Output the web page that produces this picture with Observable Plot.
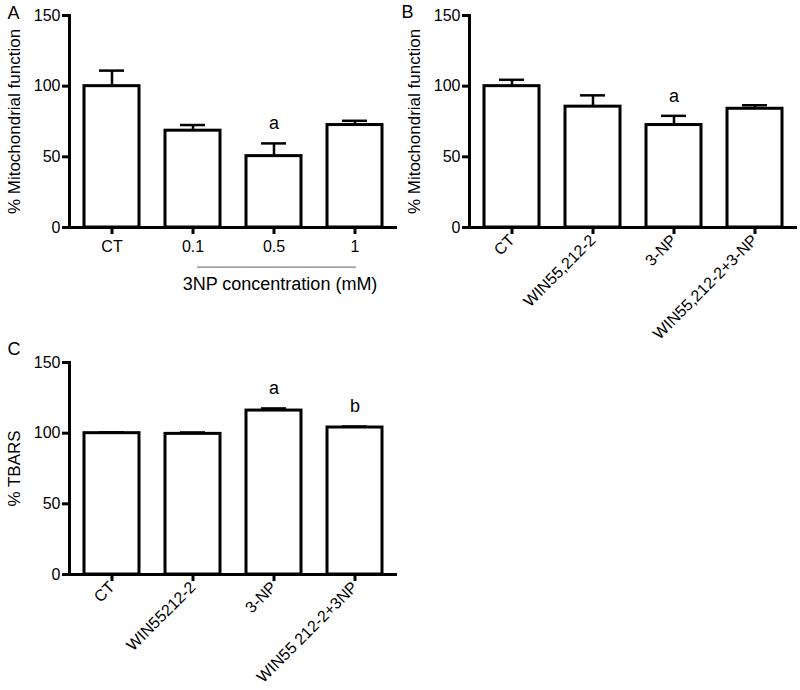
<!DOCTYPE html>
<html>
<head>
<meta charset="utf-8">
<script src="https://cdn.jsdelivr.net/npm/d3@7"></script>
<script src="https://cdn.jsdelivr.net/npm/@observablehq/plot@0.6"></script>
<style>
  html, body { margin: 0; padding: 0; background: #fff; }
  #wrap { position: relative; width: 800px; height: 690px; font-family: "Liberation Sans", Arial, sans-serif; }
  .panel { position: absolute; }
</style>
</head>
<body>
<div id="wrap">
  <div class="panel" id="pA" style="left:0;top:0"></div>
  <div class="panel" id="pB" style="left:400px;top:0"></div>
  <div class="panel" id="pC" style="left:0;top:310px"></div>
</div>
<script>
// Panel A: mitochondrial function vs 3NP concentration
const catsA = ["CT", "0.1", "0.5", "1"];
const valsA = [100, 68.5, 50.5, 72.5];
const errA  = [11, 4, 9, 3];
const sigA  = ["", "", "a", ""];

// Panel B: mitochondrial function by treatment
const catsB = ["CT", "WIN55,212-2", "3-NP", "WIN55,212-2+3-NP"];
const valsB = [100, 85.5, 72.5, 84];
const errB  = [4.5, 8, 6.5, 2.5];
const sigB  = ["", "", "a", ""];

// Panel C: TBARS by treatment
const catsC = ["CT", "WIN55212-2", "3-NP", "WIN55 212-2+3NP"];
const valsC = [100, 99.5, 116, 104];
const errC  = [0.6, 1, 1.5, 0.7];
const sigC  = ["", "", "a", "b"];

const yTicks = [0, 50, 100, 150];

function rows(cats, vals, errs, sigs) {
  return cats.map((c, i) => ({cat: c, value: vals[i], top: vals[i] + errs[i], sig: sigs[i]}));
}

function panel({cats, vals, errs, sigs, letter, letterDx, letterDy, ylabel, height, marginTop, marginBottom, rotate, extra = []}) {
  const data = rows(cats, vals, errs, sigs);
  return Plot.plot({
    width: 400,
    height,
    marginLeft: 69,
    marginRight: 3,
    marginTop,
    marginBottom,
    style: {fontFamily: '"Liberation Sans", Arial, sans-serif', fontSize: "16px", color: "#000", background: "#fff", overflow: "visible"},
    x: {domain: cats, paddingInner: 0.317, paddingOuter: 0.159, label: null},
    y: {domain: [0, 150], label: null},
    marks: [
      Plot.barY(data, {x: "cat", y: "value", fill: "#fff", stroke: "#000", strokeWidth: 3}),
      Plot.ruleX(data, {x: "cat", y1: "value", y2: "top", stroke: "#000", strokeWidth: 2.5}),
      Plot.tickY(data, {x: "cat", y: "top", insetLeft: 15, insetRight: 15, stroke: "#000", strokeWidth: 2.5}),
      Plot.text(data.filter(d => d.sig), {x: "cat", y: "top", text: "sig", dy: -20, fontSize: 18, fill: "#000"}),
      Plot.frame({anchor: "left", stroke: "#000", strokeWidth: 3}),
      Plot.ruleY([0], {stroke: "#000", strokeWidth: 3}),
      Plot.axisY({ticks: yTicks, tickSize: 7, tickPadding: 2, fontSize: 16, strokeWidth: 3, label: null}),
      Plot.axisX({tickSize: 7, tickPadding: rotate ? 3 : 6, tickRotate: rotate ? -45 : 0, fontSize: 16, strokeWidth: 3, label: null}),
      Plot.text([ylabel], {frameAnchor: "left", rotate: -90, textAnchor: "middle", dx: -55, fontSize: 17, fill: "#000"}),
      Plot.text([letter], {frameAnchor: "top-left", textAnchor: "start", dx: letterDx, dy: letterDy, fontSize: 18, fill: "#000"}),
      ...extra
    ]
  });
}

// group annotation for panel A
const groupLabel = ["3NP concentration (mM)"];
const groupSpan = [{x1: "0.1", x2: "1", y: -28}];

document.getElementById("pA").append(panel({
  cats: catsA, vals: valsA, errs: errA, sigs: sigA, letter: "A", letterDx: -62, letterDy: -9,
  ylabel: "% Mitochondrial function", height: 300, marginTop: 15, marginBottom: 73, rotate: false,
  extra: [
    Plot.ruleY(groupSpan, {x1: "x1", x2: "x2", y: "y", insetLeft: 32, insetRight: 26, stroke: "#808080", strokeWidth: 1.2}),
    Plot.text(groupLabel, {x: () => "0.5", y: () => -40, dx: 6, fontSize: 18, fill: "#000"})
  ]
}));

document.getElementById("pB").append(panel({
  cats: catsB, vals: valsB, errs: errB, sigs: sigB, letter: "B", letterDx: -68, letterDy: -10,
  ylabel: "% Mitochondrial function", height: 355, marginTop: 15, marginBottom: 128, rotate: true
}));

document.getElementById("pC").append(panel({
  cats: catsC, vals: valsC, errs: errC, sigs: sigC, letter: "C", letterDx: -62, letterDy: -20,
  ylabel: "% TBARS", height: 378, marginTop: 52, marginBottom: 114, rotate: true
}));
</script>
</body>
</html>
